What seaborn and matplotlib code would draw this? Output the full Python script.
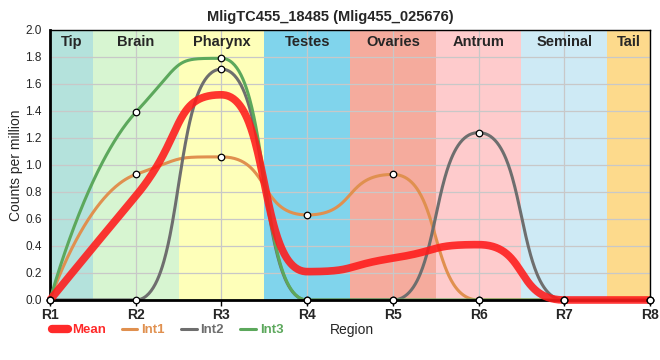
import numpy as np
import pandas as pd
import matplotlib
matplotlib.use("Agg")
import matplotlib.pyplot as plt
from matplotlib.lines import Line2D
import seaborn as sns

# values
regions = ["R1", "R2", "R3", "R4", "R5", "R6", "R7", "R8"]
mean_cpm = [0.0, 0.77, 1.52, 0.21, 0.31, 0.41, 0.0, 0.0]
int1 = [0.0, 0.93, 1.06, 0.63, 0.93, 0.0, 0.0, 0.0]
int2 = [0.0, 0.0, 1.71, 0.0, 0.0, 1.24, 0.0, 0.0]
int3 = [0.0, 1.39, 1.79, 0.0, 0.0, 0.0, 0.0, 0.0]

tissues = ["Tip", "Brain", "Pharynx", "Testes", "Ovaries", "Antrum", "Seminal", "Tail"]
tissue_colors = ["#b4e2dc", "#d7f5d1", "#feffb9", "#80d4ec",
                 "#f5ab9d", "#fecbcc", "#ceeaf5", "#fdda8c"]


def spline_path(y, reach=0.58, n=100):
    """Bezier spline through the points with flattened extremes (for drawing)."""
    y = np.asarray(y, dtype=float)
    x = np.arange(len(y), dtype=float)
    k = len(y)
    left = [(x[i], y[i]) for i in range(k)]
    right = [(x[i], y[i]) for i in range(k)]
    for i in range(1, k - 1):
        lx, ly = x[i - 1], y[i - 1]
        px, py = x[i], y[i]
        nx, ny = x[i + 1], y[i + 1]
        lcx, lcy = px - reach * (px - lx), py - reach * (py - ly)
        rcx, rcy = px + reach * (nx - px), py + reach * (ny - py)
        corr = (rcy - lcy) * (rcx - px) / (rcx - lcx) + py - rcy
        lcy += corr
        rcy += corr
        if lcy > ly and lcy > py:
            lcy = max(ly, py)
            rcy = 2 * py - lcy
        elif lcy < ly and lcy < py:
            lcy = min(ly, py)
            rcy = 2 * py - lcy
        if rcy > ny and rcy > py:
            rcy = max(ny, py)
            lcy = 2 * py - rcy
        elif rcy < ny and rcy < py:
            rcy = min(ny, py)
            lcy = 2 * py - rcy
        left[i] = (lcx, lcy)
        right[i] = (rcx, rcy)
    xs, ys = [], []
    for i in range(k - 1):
        t = np.linspace(0, 1, n, endpoint=(i == k - 2))[:, None]
        p0 = np.array([x[i], y[i]])
        c1 = np.array(right[i])
        c2 = np.array(left[i + 1])
        p1 = np.array([x[i + 1], y[i + 1]])
        b = (1 - t) ** 3 * p0 + 3 * (1 - t) ** 2 * t * c1 + 3 * (1 - t) * t ** 2 * c2 + t ** 3 * p1
        xs.append(b[:, 0])
        ys.append(b[:, 1])
    return np.concatenate(xs), np.concatenate(ys)


sns.set_style("white")
plt.rcParams["font.family"] = ["Liberation Sans", "DejaVu Sans"]

fig = plt.figure(figsize=(6.6, 3.6), dpi=100)
ax = fig.add_axes([0.0758, 0.1667, 0.9091, 0.75])

# tissue bands
edges = [0, 0.5, 1.5, 2.5, 3.5, 4.5, 5.5, 6.5, 7]
for i, (name, col) in enumerate(zip(tissues, tissue_colors)):
    ax.axvspan(edges[i], edges[i + 1], color=col, zorder=0, lw=0)
    ax.text((edges[i] + edges[i + 1]) / 2, 1.965, name, ha="center", va="top",
            fontsize=10.5, fontweight="bold", zorder=5)

ax.set_xlim(0, 7)
ax.set_ylim(0, 2.0)
ax.set_xticks(range(len(regions)))
ax.set_xticklabels(regions, fontweight="bold", fontsize=10)
ax.set_yticks(np.arange(0, 2.01, 0.2))
ax.set_yticklabels([f"{v:.1f}" for v in np.arange(0, 2.01, 0.2)], fontsize=8.5)
ax.grid(True, color="#c8c8c8", lw=0.9, zorder=1)
for gl in ax.get_xgridlines() + ax.get_ygridlines():
    gl.set_zorder(1)

series = [("Int1", int1, "#e0904f"), ("Int2", int2, "#6e6e6e"), ("Int3", int3, "#5ca85c")]
for name, vals, col in series:
    xs, ys = spline_path(vals)
    sns.lineplot(x=xs, y=ys, ax=ax, color=col, lw=2.2, zorder=3, sort=False)

xs, ys = spline_path(mean_cpm)
sns.lineplot(x=xs, y=ys, ax=ax, color="#ff1a1a", lw=5.5, alpha=0.88, zorder=8, sort=False,
             solid_capstyle="butt", clip_on=False)

pts = pd.concat([pd.DataFrame({"x": range(len(regions)), "y": v}) for _, v, _ in series])
sns.scatterplot(data=pts, x="x", y="y", ax=ax, s=22, color="white", edgecolor="black",
                linewidth=0.9, zorder=9, clip_on=False)

ax.tick_params(axis="both", length=4, width=1, color="black", direction="out", pad=2,
               bottom=True, left=False)
ax.tick_params(axis="y", labelsize=8.5)
for side in ["left", "bottom"]:
    ax.spines[side].set_linewidth(2)
    ax.spines[side].set_color("black")
for side in ["top", "right"]:
    ax.spines[side].set_linewidth(1)
    ax.spines[side].set_color("black")
    ax.spines[side].set_visible(True)
ax.spines["bottom"].set_zorder(7)

ax.set_xlabel("")
ax.set_ylabel("Counts per million", fontsize=10)
ax.yaxis.set_label_coords(-0.045, 0.5)
fig.text(0.5, 0.972, "MligTC455_18485 (Mlig455_025676)", ha="center", va="top",
         fontsize=10.5, fontweight="bold")
fig.text(0.5, 0.083, "Region", ha="left", va="center", fontsize=10)

handles = [Line2D([0], [0], color="#ff2a2a", lw=6),
           Line2D([0], [0], color="#e0904f", lw=2.2),
           Line2D([0], [0], color="#6e6e6e", lw=2.2),
           Line2D([0], [0], color="#5ca85c", lw=2.2)]
leg = fig.legend(handles, ["Mean", "Int1", "Int2", "Int3"], loc="center left",
                 bbox_to_anchor=(0.065, 0.083), ncol=4, frameon=False,
                 handlelength=1.2, handletextpad=0.3, columnspacing=1.2,
                 labelcolor="linecolor", borderpad=0.2,
                 prop={"weight": "bold", "size": 9.5})

fig.savefig("out.png", dpi=100)
